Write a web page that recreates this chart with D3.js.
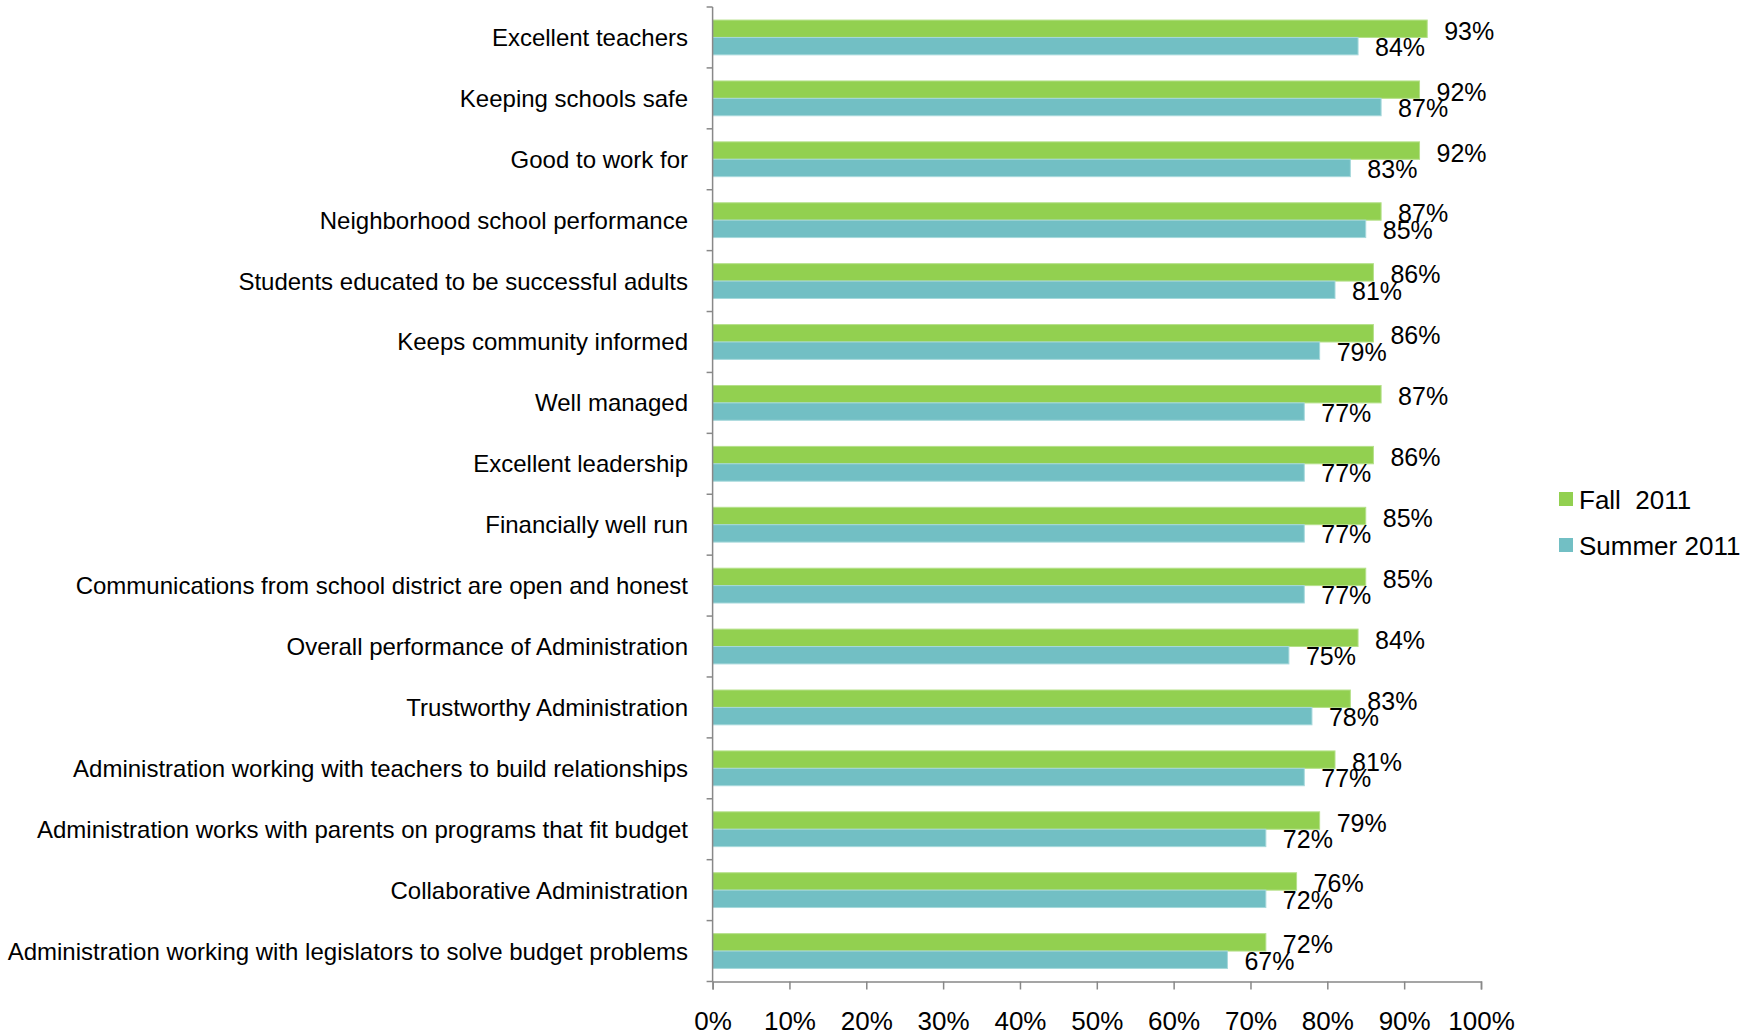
<!DOCTYPE html>
<html>
<head>
<meta charset="utf-8">
<script src="https://cdn.jsdelivr.net/npm/d3@7"></script>
<style>
  html, body { margin: 0; padding: 0; background: #fff; }
  svg { display: block; font-family: "Liberation Sans", Arial, sans-serif; }
</style>
</head>
<body>
<svg id="chart" width="1757" height="1035"></svg>
<script>
// Survey items, top to bottom
const categories = [
  "Excellent teachers",
  "Keeping schools safe",
  "Good to work for",
  "Neighborhood school performance",
  "Students educated to be successful adults",
  "Keeps community informed",
  "Well managed",
  "Excellent leadership",
  "Financially well run",
  "Communications from school district are open and honest",
  "Overall performance of Administration",
  "Trustworthy Administration",
  "Administration working with teachers to build relationships",
  "Administration works with parents on programs that fit budget",
  "Collaborative Administration",
  "Administration working with legislators to solve budget problems"
];
const fall2011   = [93, 92, 92, 87, 86, 86, 87, 86, 85, 85, 84, 83, 81, 79, 76, 72];
const summer2011 = [84, 87, 83, 85, 81, 79, 77, 77, 77, 77, 75, 78, 77, 72, 72, 67];
const seriesNames = ["Fall  2011", "Summer 2011"];
const xTicks = [0, 10, 20, 30, 40, 50, 60, 70, 80, 90, 100];

const colors = { fall: "#92D050", summer: "#72BFC4" };
const axisColor = "#888888";

const svg = d3.select("#chart");
const plot = { left: 712.6, right: 1481, top: 7, bottom: 981.5 };

const x = d3.scaleLinear().domain([0, 100]).range([plot.left, plot.right]);
const y = d3.scaleBand().domain(categories).range([plot.top, plot.bottom]).padding(0);
const barH = 17.4;

const rows = categories.map((c, i) => ({ cat: c, fall: fall2011[i], summer: summer2011[i] }));

// Bars: Fall on top, Summer just below, pair centred in each band
const g = svg.append("g");
rows.forEach(r => {
  const cy = y(r.cat) + y.bandwidth() / 2;
  [["fall", cy - barH], ["summer", cy]].forEach(([key, top]) => {
    g.append("rect")
      .attr("x", x(0))
      .attr("y", top)
      .attr("width", x(r[key]) - x(0))
      .attr("height", barH)
      .attr("fill", colors[key])
      .attr("stroke", key === "fall" ? "#B5E08A" : "#A6D8DB")
      .attr("stroke-width", 1);
    g.append("text")
      .attr("x", x(r[key]) + 17)
      .attr("y", top + barH / 2 + (key === "fall" ? 2 : 1))
      .attr("dominant-baseline", "central")
      .attr("font-size", 25)
      .attr("fill", "#000")
      .text(r[key] + "%");
  });
});

// Vertical category axis with tick marks at band boundaries
const yAxis = svg.append("g");
yAxis.append("line")
  .attr("x1", x(0)).attr("x2", x(0))
  .attr("y1", plot.top).attr("y2", plot.bottom)
  .attr("stroke", axisColor).attr("stroke-width", 1.5);
categories.concat([null]).forEach((c, i) => {
  const yy = plot.top + i * y.step();
  yAxis.append("line")
    .attr("x1", x(0) - 6).attr("x2", x(0))
    .attr("y1", yy).attr("y2", yy)
    .attr("stroke", axisColor).attr("stroke-width", 1.5);
});
categories.forEach(c => {
  yAxis.append("text")
    .attr("x", 688)
    .attr("y", y(c) + y.bandwidth() / 2)
    .attr("text-anchor", "end")
    .attr("dominant-baseline", "central")
    .attr("font-size", 24)
    .attr("fill", "#000")
    .text(c);
});

// Horizontal percentage axis
const xAxis = svg.append("g")
  .attr("transform", `translate(0,${plot.bottom})`)
  .call(d3.axisBottom(x).tickValues(xTicks).tickSize(8).tickFormat(d => d + "%"));
xAxis.select(".domain").attr("stroke", axisColor).attr("stroke-width", 1.5);
xAxis.selectAll(".tick line").attr("stroke", axisColor).attr("stroke-width", 1.5);
xAxis.selectAll(".tick text")
  .attr("font-family", "Liberation Sans, Arial, sans-serif")
  .attr("font-size", 26)
  .attr("fill", "#000")
  .attr("y", 30)
  .attr("dy", "0.71em");

// Legend
const legend = svg.append("g");
[["fall", 0], ["summer", 1]].forEach(([key, i]) => {
  const ly = 499 + i * 46;
  legend.append("rect")
    .attr("x", 1559).attr("y", ly - 7)
    .attr("width", 14).attr("height", 14)
    .attr("fill", colors[key]);
  legend.append("text")
    .attr("x", 1579).attr("y", ly + 1)
    .attr("dominant-baseline", "central")
    .attr("font-size", 26)
    .attr("fill", "#000")
    .style("white-space", "pre")
    .text(seriesNames[i]);
});
</script>
</body>
</html>
